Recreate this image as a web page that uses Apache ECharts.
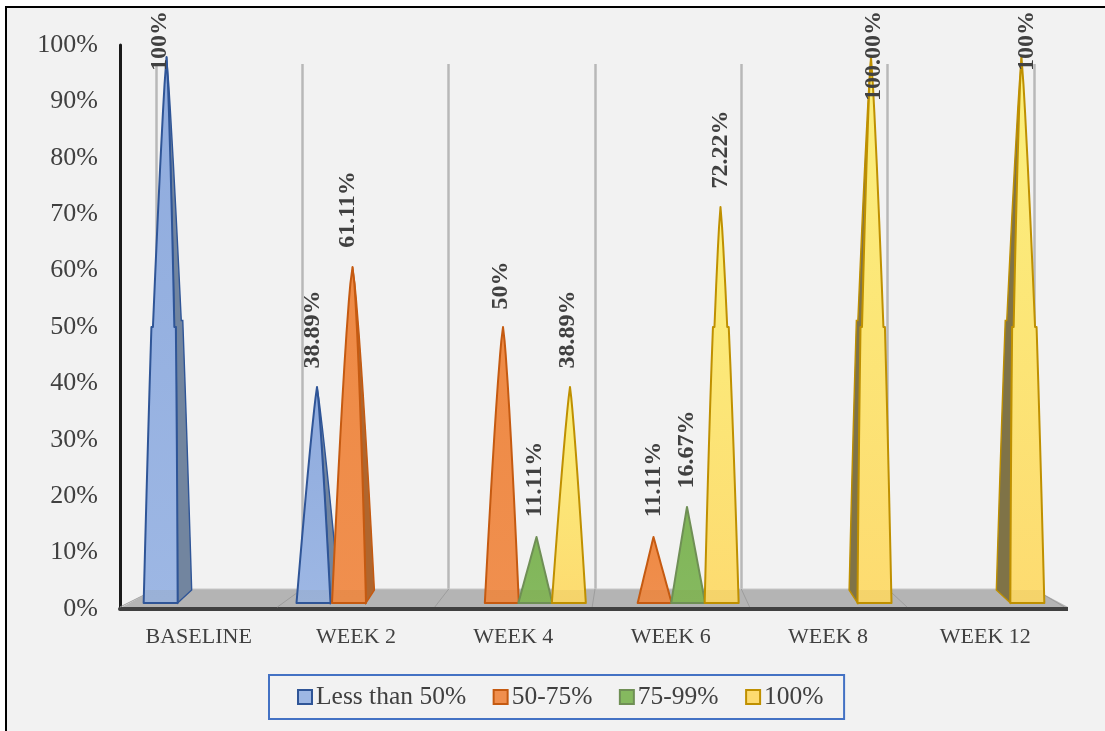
<!DOCTYPE html>
<html><head><meta charset="utf-8">
<style>
html,body{margin:0;padding:0;background:#fff;width:1105px;height:731px;overflow:hidden}
#bg{position:absolute;left:5px;top:6px;right:0;bottom:0;background:#f2f2f2;border-left:2px solid #000;border-top:2px solid #000}
#c{position:absolute;left:0;top:0;width:1105px;height:731px;filter:blur(0.5px)}
</style>
<script src="https://cdn.jsdelivr.net/npm/echarts@6/dist/echarts.min.js"></script>
</head><body><div id="bg"></div><div id="c"></div>
<script>
const categories = ['BASELINE','WEEK 2','WEEK 4','WEEK 6','WEEK 8','WEEK 12'];
const seriesNames = ['Less than 50%','50-75%','75-99%','100%'];
const lessThan50 = [100, 38.89, null, null, null, null];
const from50to75 = [null, 61.11, 50, 11.11, null, null];
const from75to99 = [null, null, 11.11, 16.67, null, null];
const full100 = [null, null, 38.89, 72.22, 100, 100];
const lessThan50Labels = ['100%','38.89%','','','',''];
const from50to75Labels = ['','61.11%','50%','11.11%','',''];
const from75to99Labels = ['','','11.11%','16.67%','',''];
const full100Labels = ['','','38.89%','72.22%','100.00%','100%'];
const yTicks = [0,10,20,30,40,50,60,70,80,90,100];

const FONT = '"Liberation Serif"';
const TXT = '#404040';
const styles = [
  {fill:'#9db7e4',top:'#8fabdd',edge:'#2f5597',side:'#72859f'},
  {fill:'#f08f4e',top:'#ee8a45',edge:'#c55a11',side:'#b0662e'},
  {fill:'#85b95f',top:'#80b558',edge:'#6f8f55',side:'#6d7f5c'},
  {fill:'#fddb70',top:'#fbf07e',edge:'#bf9000',side:'#7f7347'}
];
const values = [lessThan50, from50to75, from75to99, full100];
const labels = [lessThan50Labels, from50to75Labels, from75to99Labels, full100Labels];
// perspective model of the 3D cluster (pixel shifts only, not data)
const baseShift = [-38,-2.5,31,64.5];
const drift = -4.5;
const sideAt = i => 14 - 5.6*i;
const tSamples = [0,0.1,0.2,0.3,0.4,0.5,0.6,0.7,0.8,0.9,0.95,1];
const BASE_DROP = 6;

function coneItem(s){
  return function(params, api){
    const i = api.value(0), v = api.value(1);
    const a = api.coord([i, v]), b = api.coord([i, 0]);
    const cx = b[0] + baseShift[s] + drift*i;
    const side = sideAt(i), hw = 17, baseY = b[1]+BASE_DROP, h = baseY-a[1];
    const apexX = cx + side*0.42;
    const st = styles[s];
    const p = 1 - 0.53*Math.min(1,Math.max(0,(v-15)/85));
    let rows = tSamples.map(t=>[t,Math.pow(1-t,p)]);
    if (v>=70) {
      // the 3D render shows a small seam where the cone crosses the 50% plane
      const t50 = (baseY-api.coord([i,50])[1])/h;
      const f = Math.pow(1-t50,p), fU = f-1.5/17;
      rows = rows.filter(r=>r[0]<t50).concat([[t50,f],[t50,fU]],
        rows.filter(r=>r[0]>t50).map(r=>[r[0],fU*Math.pow((1-r[0])/(1-t50),0.8)]));
    }
    const L=[],R=[];
    rows.forEach(r=>{
      const y=baseY-h*r[0];
      const c=cx+(apexX-cx)*r[0];
      L.push([c-hw*r[1],y]); R.push([c+hw*r[1],y]);
    });
    const outerSide = side>=0 ? R : L;
    const sidePts = outerSide.map((pt,k)=>[pt[0]+side*(1-rows[k][0]), pt[1]-13*(1-rows[k][0])]);
    const children = [];
    if (Math.abs(side)>3) {
      children.push({type:'polygon',shape:{points:outerSide.concat(sidePts.slice().reverse())},
        style:{fill:st.side,stroke:st.edge,lineWidth:1.4}});
    }
    children.push({type:'polygon',shape:{points:L.concat(R.slice().reverse())},
      style:{fill:{type:'linear',x:0,y:0,x2:0,y2:1,colorStops:[{offset:0,color:st.top},{offset:1,color:st.fill}]},
        stroke:st.edge,lineWidth:2,lineJoin:'round'}});
    // slightly shaded foot of the cone, where it stands on the floor
    const footT = 13/h, footF = Math.pow(1-footT,p);
    children.push({type:'polygon',shape:{points:[[cx-hw+1,baseY-1],[cx+hw-1,baseY-1],[cx+hw*footF-1,baseY-13],[cx-hw*footF+1,baseY-13]]},
      style:{fill:'rgba(120,90,20,0.06)'}});
    const text = labels[s][i];
    const labelLen = {4:58,3:45,6:77,7:88}[text.length]||70;
    const mid = Math.max(12+labelLen/2, a[1]-19-labelLen/2);
    children.push({type:'text',x:cx-1,y:mid,rotation:Math.PI/2,z2:20,
      style:{text:text,font:'bold 24px '+FONT,fill:TXT,align:'center',verticalAlign:'middle'}});
    return {type:'group',children};
  };
}
const idx = arr => arr.map((v,i)=>[i,v]).filter(d=>d[1]!==null);
const series = seriesNames.map((n,s)=>({
  name:n,type:'custom',xAxisIndex:2,yAxisIndex:2,z:5,clip:false,
  itemStyle:{color:styles[s].fill,borderColor:styles[s].edge,borderWidth:2},
  encode:{x:0,y:1},renderItem:coneItem(s),data:idx(values[s]),silent:true
}));

const floorTop=589, floorBot=607;
const wallX=[156,302.3,448.7,595,741.3,887.7,1034];
const floorEls=[{type:'polygon',silent:true,z:1,shape:{points:[[122,floorBot],[156,floorTop],[1034,floorTop],[1068,floorBot]]},style:{fill:'#b4b4b4'}}];
wallX.forEach((x,i)=>floorEls.push({type:'line',silent:true,z:2,shape:{x1:x,y1:floorTop,x2:120+157.4*i,y2:floorBot},style:{stroke:'#9d9d9d',lineWidth:1}}));
floorEls.push({type:'line',silent:true,z:1,shape:{x1:156,y1:floorTop,x2:1040,y2:floorTop},style:{stroke:'#c8c8c8',lineWidth:1}});
floorEls.push({type:'line',silent:true,z:9,shape:{x1:1060,y1:609,x2:1068,y2:609},style:{stroke:'#404040',lineWidth:4}});

const chart = echarts.init(document.getElementById('c'),null,{renderer:'canvas'});
chart.setOption({
  animation:false,backgroundColor:'transparent',
  grid:[
    {left:120,width:944,top:45,height:564},
    {left:156,width:878,top:64,height:525},
    {left:120,width:944,top:57,height:540}
  ],
  xAxis:[
    {gridIndex:0,type:'category',data:categories,axisTick:{show:false},
      axisLine:{lineStyle:{color:'#404040',width:4}},
      axisLabel:{fontFamily:FONT,fontSize:22,color:TXT,margin:17}},
    {gridIndex:1,type:'category',data:categories,axisLine:{show:false},axisTick:{show:false},axisLabel:{show:false},
      splitLine:{show:true,lineStyle:{color:'#b8b8b8',width:2.5}}},
    {gridIndex:2,type:'category',data:categories,show:false}
  ],
  yAxis:[
    {gridIndex:0,type:'value',min:0,max:100,interval:10,axisTick:{show:false},splitLine:{show:false},
      axisLine:{show:true,lineStyle:{color:'#1a1a1a',width:3}},
      axisLabel:{fontFamily:FONT,fontSize:26,color:TXT,margin:22,formatter:v=>yTicks.includes(v)?v+'%':''}},
    {gridIndex:1,type:'value',min:0,max:100,show:false,splitLine:{show:false}},
    {gridIndex:2,type:'value',min:0,max:100,show:false,splitLine:{show:false}}
  ],
  legend:{left:269,top:675,padding:[9,20.5,9,28],itemWidth:14,itemHeight:14,itemGap:26.5,
    borderColor:'#4472c4',borderWidth:2,backgroundColor:'transparent',
    textStyle:{fontFamily:FONT,fontSize:25.5,color:TXT,padding:[0,0,0,-1]},data:seriesNames.map((n,s)=>({name:n,icon:'rect',itemStyle:{color:styles[s].fill,borderColor:styles[s].edge,borderWidth:2}}))},
  graphic:floorEls,
  series
});
</script></body></html>
